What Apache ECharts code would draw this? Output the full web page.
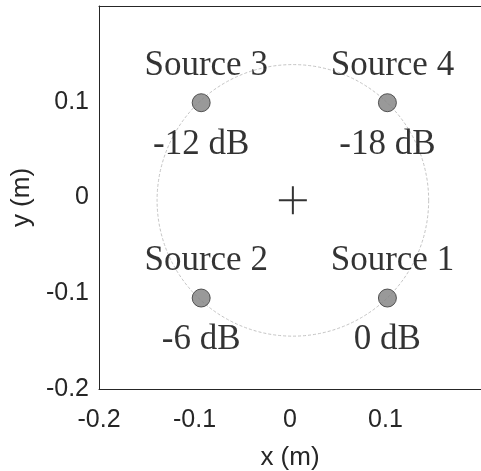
<!DOCTYPE html>
<html>
<head>
<meta charset="utf-8">
<script src="https://cdn.jsdelivr.net/npm/echarts@6/dist/echarts.min.js"></script>
<style>
  html, body { margin: 0; padding: 0; background: #fff; }
  #chart { width: 481px; height: 471px; }
</style>
</head>
<body>
<div id="chart"></div>
<script>
// Source layout (metres) and relative levels
const sourceNames = ['Source 1', 'Source 2', 'Source 3', 'Source 4'];
const sourceX = [0.102, -0.093, -0.093, 0.102];
const sourceY = [-0.105, -0.105, 0.099, 0.099];
const sourceLevels = ['0 dB', '-6 dB', '-12 dB', '-18 dB'];

// Array centre and the circle the sources sit on
const centreX = [0.003];
const centreY = [-0.003];
const ringRadius = [0.142];

// Axis tick labels
const xTickLabels = ['-0.2', '-0.1', '0', '0.1'];
const yTickLabels = ['-0.2', '-0.1', '0', '0.1'];

const sourceData = sourceNames.map((n, i) => ({
  name: n,
  value: [sourceX[i], sourceY[i]],
  level: sourceLevels[i]
}));

const tickFmt = labels => v => {
  const s = (Math.round(v * 10) / 10).toString();
  return labels.indexOf(s) >= 0 ? s : '';
};

const serif = '"Liberation Serif", "DejaVu Serif", serif';
const sans = '"Liberation Sans", Arial, sans-serif';
const axisColor = '#262626';

const chart = echarts.init(document.getElementById('chart'), null, { renderer: 'canvas' });
chart.setOption({
  backgroundColor: '#ffffff',
  animation: false,
  grid: { left: 99, top: 6, width: 382, height: 383, containLabel: false, outerBoundsMode: 'none' },
  xAxis: [{
    type: 'value', min: -0.2, max: 0.2, interval: 0.1,
    name: 'x (m)', nameLocation: 'middle', nameGap: 56,
    nameTextStyle: { fontFamily: sans, fontSize: 26, color: axisColor },
    axisLine: { show: true, onZero: false, lineStyle: { color: axisColor, width: 1 } },
    axisTick: { show: false },
    splitLine: { show: false },
    axisLabel: { formatter: tickFmt(xTickLabels), fontFamily: sans, fontSize: 25, color: axisColor, margin: 19 }
  }, {
    type: 'value', min: -0.2, max: 0.2, position: 'top',
    axisLine: { show: true, onZero: false, lineStyle: { color: axisColor, width: 1 } },
    axisTick: { show: false }, axisLabel: { show: false }, splitLine: { show: false }
  }],
  yAxis: [{
    type: 'value', min: -0.2, max: 0.2, interval: 0.1,
    name: 'y (m)', nameLocation: 'middle', nameGap: 62, nameRotate: 90,
    nameTextStyle: { fontFamily: sans, fontSize: 26, color: axisColor },
    axisLine: { show: true, onZero: false, lineStyle: { color: axisColor, width: 1 } },
    axisTick: { show: false },
    splitLine: { show: false },
    axisLabel: { formatter: tickFmt(yTickLabels), fontFamily: sans, fontSize: 25, color: axisColor, margin: 10, padding: [9, 0, 0, 0] }
  }],
  series: [
    {
      // dashed circle through the sources
      type: 'custom',
      silent: true,
      data: [[centreX[0], centreY[0], ringRadius[0]]],
      renderItem: (params, api) => {
        const c = api.coord([api.value(0), api.value(1)]);
        const s = api.size([api.value(2), api.value(2)]);
        return {
          type: 'circle',
          shape: { cx: c[0], cy: c[1], r: (s[0] + s[1]) / 2 },
          style: { fill: 'none', stroke: '#c4c4c4', lineWidth: 1, lineDash: [3, 2] }
        };
      },
      z: 1
    },
    {
      // array centre
      type: 'scatter',
      data: [[centreX[0], centreY[0]]],
      symbol: 'path://M13,0h2v13h13v2h-13v13h-2v-13h-13v-2h13z',
      symbolSize: 28,
      itemStyle: { color: '#000' },
      z: 2
    },
    {
      // sources with names above
      type: 'scatter',
      data: sourceData,
      symbol: 'circle',
      symbolSize: 18,
      itemStyle: { color: '#808080', borderColor: '#333', borderWidth: 1 },
      label: {
        show: true, position: 'inside', offset: [5, -37],
        formatter: p => p.name,
        fontFamily: serif, fontSize: 35, color: '#000'
      },
      z: 3
    },
    {
      // levels below each source
      type: 'scatter',
      data: sourceData,
      symbolSize: 0,
      itemStyle: { color: 'transparent' },
      label: {
        show: true, position: 'inside', offset: [0, 42],
        formatter: p => p.data.level,
        fontFamily: serif, fontSize: 35, color: '#000'
      },
      z: 3
    }
  ]
});
</script>
</body>
</html>
